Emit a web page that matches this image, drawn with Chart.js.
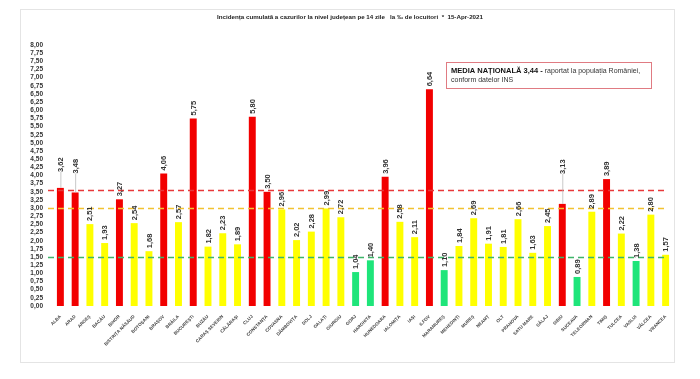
<!DOCTYPE html>
<html>
<head>
<meta charset="utf-8">
<script src="https://cdn.jsdelivr.net/npm/chart.js@4"></script>
<style>
  body { margin: 0; background: #fff; }
  canvas { display: block; }
</style>
</head>
<body>
<canvas id="myChart" width="700" height="379"></canvas>
<script>
    const judete = ['ALBA', 'ARAD', 'ARGEȘ', 'BACĂU', 'BIHOR', 'BISTRIȚA NĂSĂUD', 'BOTOȘANI', 'BRAȘOV', 'BRĂILA', 'BUCUREȘTI',
        'BUZĂU', 'CARAȘ SEVERIN', 'CĂLĂRAȘI', 'CLUJ', 'CONSTANȚA', 'COVASNA', 'DÂMBOVIȚA', 'DOLJ', 'GALAȚI', 'GIURGIU',
        'GORJ', 'HARGHITA', 'HUNEDOARA', 'IALOMIȚA', 'IAȘI', 'ILFOV', 'MARAMUREȘ', 'MEHEDINȚI', 'MUREȘ', 'NEAMȚ',
        'OLT', 'PRAHOVA', 'SATU MARE', 'SĂLAJ', 'SIBIU', 'SUCEAVA', 'TELEORMAN', 'TIMIȘ', 'TULCEA', 'VASLUI',
        'VÂLCEA', 'VRANCEA'];
    const incidenta = [3.62, 3.48, 2.51, 1.93, 3.27, 2.54, 1.68, 4.06, 2.57, 5.75,
        1.82, 2.23, 1.89, 5.80, 3.50, 2.96, 2.02, 2.28, 2.99, 2.72,
        1.04, 1.40, 3.96, 2.58, 2.11, 6.64, 1.10, 1.84, 2.69, 1.91,
        1.81, 2.66, 1.63, 2.45, 3.13, 0.89, 2.89, 3.89, 2.22, 1.38,
        2.80, 1.57];
    // praguri: linii orizontale punctate
    const praguri = [3.55, 3.0, 1.5];
    const culoriPraguri = ['#e8383a', '#f2c230', '#3fb56a'];
    const mediaNationala = 3.44;
    const titlu = 'Incidența cumulată a cazurilor la nivel județean pe 14 zile   la ‰ de locuitori  *  15-Apr-2021';

    // etichete ridicate cu linie de legatura (index -> px)
    const ridicare = { 0: 13, 1: 16, 34: 27 };

    function culoare(v) {
        if (v >= 3) return '#f20000';
        if (v >= 1.5) return '#ffff00';
        return '#1ee57a';
    }

    const fmt = v => v.toFixed(2).replace('.', ',');

    const extra = {
        id: 'extra',
        beforeDatasetsDraw(chart) {
            const c = chart.ctx;
            // rama
            c.save();
            c.strokeStyle = '#e4e4e4';
            c.lineWidth = 1;
            c.strokeRect(20.5, 9.5, 654, 353);
            // titlu
            c.fillStyle = '#222';
            c.font = 'bold 6.2px "Liberation Sans", Arial, sans-serif';
            c.textAlign = 'center';
            c.textBaseline = 'middle';
            c.fillText(titlu, 350, 17);
            c.restore();
        },
        afterDatasetsDraw(chart) {
            const c = chart.ctx;
            const y = chart.scales.y;
            const meta = chart.getDatasetMeta(0);
            c.save();
            // linii de prag
            praguri.forEach((p, i) => {
                c.strokeStyle = culoriPraguri[i];
                c.lineWidth = 1.6;
                c.setLineDash([6, 4]);
                c.beginPath();
                const py = Math.round(y.getPixelForValue(p)) + 0.5;
                c.moveTo(48, py);
                c.lineTo(668, py);
                c.stroke();
            });
            c.setLineDash([]);
            // etichete valori
            c.font = 'bold 7.5px "Liberation Sans", Arial, sans-serif';
            c.fillStyle = '#333';
            meta.data.forEach((bar, i) => {
                const lift = ridicare[i] || 0;
                const top = bar.y - 3 - lift;
                if (lift) {
                    c.strokeStyle = '#b0b0b0';
                    c.lineWidth = 0.7;
                    c.beginPath();
                    c.moveTo(bar.x + 0.5, bar.y);
                    c.lineTo(bar.x + 0.5, top);
                    c.stroke();
                }
                c.save();
                c.translate(bar.x + 0.5, top);
                c.rotate(-Math.PI / 2);
                c.textAlign = 'left';
                c.textBaseline = 'middle';
                c.fillText(fmt(incidenta[i]), 0, 0);
                c.restore();
            });
            // caseta media nationala
            c.strokeStyle = '#e07b82';
            c.lineWidth = 1;
            c.strokeRect(446.5, 62.5, 205, 26);
            c.textAlign = 'left';
            c.textBaseline = 'middle';
            c.fillStyle = '#111';
            c.font = 'bold 7.5px "Liberation Sans", Arial, sans-serif';
            const t1 = 'MEDIA NAȚIONALĂ ' + fmt(mediaNationala) + ' - ';
            c.fillText(t1, 451, 71);
            const w1 = c.measureText(t1).width;
            c.font = '7px "Liberation Sans", Arial, sans-serif';
            c.fillStyle = '#333';
            c.fillText('raportat la populația României,', 451 + w1, 71);
            c.fillText('conform datelor INS', 451, 80);
            c.restore();
        }
    };

    const ctx = document.getElementById('myChart').getContext('2d');
    const myChart = new Chart(ctx, {
        type: 'bar',
        data: {
            labels: judete,
            datasets: [{
                label: 'Incidența',
                data: incidenta,
                backgroundColor: incidenta.map(culoare),
                borderWidth: 0,
                categoryPercentage: 1,
                barPercentage: 0.47
            }]
        },
        options: {
            responsive: false,
            animation: false,
            layout: { padding: { left: 20, right: 27, top: 45, bottom: 0 } },
            plugins: {
                legend: { display: false },
                tooltip: { enabled: false }
            },
            scales: {
                y: {
                    min: 0,
                    max: 8,
                    afterFit(scale) { scale.width = 33; },
                    grid: { display: false },
                    border: { display: false },
                    ticks: {
                        stepSize: 0.25,
                        autoSkip: false,
                        padding: 2,
                        color: '#333',
                        font: { size: 6.5, weight: 'bold', family: '"Liberation Sans", Arial, sans-serif' },
                        callback: v => fmt(v)
                    }
                },
                x: {
                    afterFit(scale) { scale.height = 73; },
                    grid: { display: false },
                    border: { display: false },
                    ticks: {
                        autoSkip: false,
                        minRotation: 45,
                        maxRotation: 45,
                        padding: 0,
                        color: '#444',
                        font: { size: 4.5, weight: 'bold', family: '"Liberation Sans", Arial, sans-serif' }
                    }
                }
            }
        },
        plugins: [extra]
    });
</script>
</body>
</html>
